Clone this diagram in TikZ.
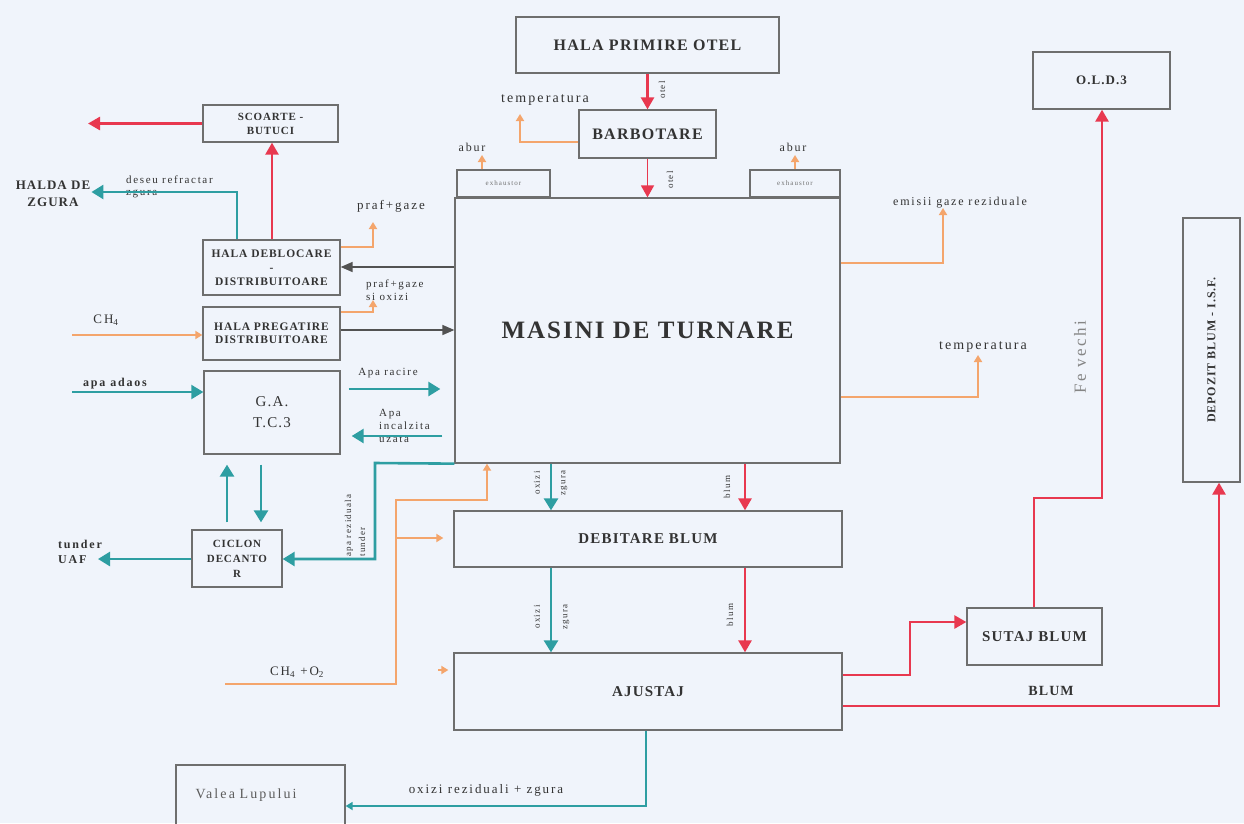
\documentclass[tikz,border=0pt]{standalone}
\usepackage{fontspec}
\setmainfont{Liberation Serif}
\newfontfamily\boxfont[LetterSpace=8]{Liberation Serif}
\newfontfamily\lblfont[LetterSpace=15]{Liberation Serif}
\usetikzlibrary{arrows.meta}
\definecolor{bg}{HTML}{F0F4FB}
\definecolor{flowred}{HTML}{E8384F}
\definecolor{flowteal}{HTML}{2E9EA2}
\definecolor{floworange}{HTML}{F4A56C}
\definecolor{boxline}{HTML}{6E6E6E}
\definecolor{ink}{HTML}{333333}
\newcommand\fsz[2]{\fontsize{#1}{#2}\selectfont}

\begin{document}
\begin{tikzpicture}[x=1pt,y=-1pt,
  box/.style={draw=boxline, line width=1.3pt, inner sep=2pt, align=center, text=ink},
  lbl/.style={font=\lblfont\fsz{12}{13}, text=ink, inner sep=1pt, align=left},
  vlbl/.style={font=\lblfont\fsz{9}{10}, text=ink, inner sep=1pt, rotate=90},
  redflow/.style={draw=flowred, line width=2.6pt, -{Triangle[length=12pt,width=13pt]}},
  tealflow/.style={draw=flowteal, line width=2.6pt, -{Triangle[length=12pt,width=14pt]}},
  orangeflow/.style={draw=floworange, line width=2pt, -{Triangle[length=7pt,width=8pt]}},
  grayflow/.style={draw=ink!85, line width=1.6pt, -{Triangle[length=12pt,width=10pt]}}]

\fill[bg] (0,0) rectangle (1244,823);
\useasboundingbox (0,0) rectangle (1244,823);

% process blocks
\node[box, minimum width=263pt, minimum height=56pt, font=\boxfont\bfseries\fsz{16}{19}] (primire) at (647.5,45) {HALA PRIMIRE OTEL};
\node[box, minimum width=137pt, minimum height=48pt, font=\boxfont\bfseries\fsz{16}{19}] (barb) at (647.5,134) {BARBOTARE};
\node[box, minimum width=93pt, minimum height=27pt, font=\lblfont\fsz{7}{8}, text=ink!70] (exL) at (503.5,183.5) {exhaustor};
\node[box, minimum width=90pt, minimum height=27pt, font=\lblfont\fsz{7}{8}, text=ink!70] (exR) at (795,183.5) {exhaustor};
\node[box, minimum width=385pt, minimum height=265pt, font=\boxfont\bfseries\fsz{25}{30}] (masini) at (647.5,330.5) {MASINI DE TURNARE};
\node[box, minimum width=135pt, minimum height=37pt, font=\boxfont\bfseries\fsz{11}{14}] (scoarte) at (270.5,123.5) {SCOARTE -\\BUTUCI};
\node[box, minimum width=137pt, minimum height=55pt, font=\boxfont\bfseries\fsz{11.5}{14}] (deblocare) at (271.5,267.5) {HALA DEBLOCARE\\-\\DISTRIBUITOARE};
\node[box, minimum width=137pt, minimum height=53pt, font=\boxfont\bfseries\fsz{11.5}{13}] (pregatire) at (271.5,333.5) {HALA PREGATIRE\\DISTRIBUITOARE};
\node[box, minimum width=136pt, minimum height=83pt, font=\boxfont\fsz{15}{21}] (ga) at (272,412.5) {G.A.\\T.C.3};
\node[box, minimum width=90pt, minimum height=57pt, font=\boxfont\bfseries\fsz{11}{15}] (ciclon) at (237,558.5) {CICLON\\DECANTO\\R};
\node[box, minimum width=388pt, minimum height=56pt, font=\boxfont\bfseries\fsz{15}{18}] (debitare) at (648,539) {DEBITARE BLUM};
\node[box, minimum width=388pt, minimum height=77pt, font=\boxfont\bfseries\fsz{15}{18}] (ajustaj) at (648,691.5) {AJUSTAJ};
\node[box, minimum width=135pt, minimum height=57pt, font=\boxfont\bfseries\fsz{15}{18}] (sutaj) at (1034.5,636.5) {SUTAJ BLUM};
\node[box, minimum width=137pt, minimum height=57pt, font=\boxfont\bfseries\fsz{13}{16}] (old3) at (1101.5,80.5) {O.L.D.3};
\node[box, rotate=90, minimum width=264pt, minimum height=57pt, font=\boxfont\bfseries\fsz{12}{14}] (depozit) at (1211.5,350) {DEPOZIT BLUM - I.S.F.};
\node[box, minimum width=169pt, minimum height=60pt, font=\lblfont\fsz{14}{16}, text=ink!80, text width=130pt, align=left] (valea) at (260.5,795) {Valea Lupului};

% free destinations and sources
\node[font=\boxfont\bfseries\fsz{13}{17}, text=ink, align=center, inner sep=1pt] (halda) at (53,194) {HALDA DE\\ZGURA};
\coordinate (scoarteout) at (88,123.5);
\coordinate (adaosin) at (72,392);
\coordinate (ch4in) at (72,335);
\coordinate (tunderout) at (98,559);
\coordinate (ch4o2in) at (225,684);
\coordinate (ch4o2up) at (396,684);
\coordinate (ch4o2mid) at (396,500);
\coordinate (tempout) at (520,114);
\coordinate (aburL) at (482,155);
\coordinate (aburR) at (795,155);
\coordinate (prafA) at (373,222);
\coordinate (prafB) at (373,300);
\coordinate (emisout) at (943,208);
\coordinate (temp2out) at (978,355);
\coordinate (rezcorner) at (375,463);
\coordinate (ajustajstub) at (438,670);

% labels
\node[vlbl] (lotel1) at (662,90) {otel};
\node[vlbl] (lotel2) at (670,180) {otel};
\node[lbl, font=\lblfont\fsz{14}{15}] (ltemp1) at (545,100) {temperatura};
\node[lbl] (labur1) at (472,147) {abur};
\node[lbl] (labur2) at (793,147) {abur};
\node[lbl, font=\lblfont\fsz{11}{12}] (ldeseu) at (125,187) [anchor=west] {deseu refractar\\zgura};
\node[lbl, font=\lblfont\fsz{13}{14}] (lpraf1) at (391,206) {praf+gaze};
\node[lbl, font=\lblfont\fsz{11}{13}] (lpraf2) at (365,290) [anchor=west] {praf+gaze\\si oxizi};
\node[lbl, font=\lblfont\fsz{13}{14}] (lch4) at (106,320) {CH\textsubscript{4}};
\node[lbl, font=\lblfont\bfseries\fsz{12}{13}] (ladaos) at (115,384) {apa adaos};
\node[lbl, font=\lblfont\fsz{11}{12}] (lracire) at (388,373) {Apa racire};
\node[lbl, font=\lblfont\fsz{11}{13}] (lincalz) at (378,426) [anchor=west] {Apa\\incalzita\\uzata};
\node[lbl, font=\lblfont\bfseries\fsz{12}{15}] (ltunder) at (57,552) [anchor=west] {tunder\\UAF};
\node[vlbl, align=left, anchor=west, font=\lblfont\fsz{9}{14}] (lrez) at (355,558) {apa reziduala\\tunder};
\node[lbl, font=\lblfont\fsz{13}{14}] (lch4o2) at (297,672) {CH\textsubscript{4} +O\textsubscript{2}};
\node[vlbl] (loxizi1) at (537,483) {oxizi};
\node[vlbl] (lzgura1) at (564,483) {zgura};
\node[vlbl] (loxizi2) at (537,617) {oxizi};
\node[vlbl] (lzgura2) at (566,617) {zgura};
\node[vlbl] (lblum1) at (727,487) {blum};
\node[vlbl] (lblum2) at (730,615) {blum};
\node[lbl, font=\lblfont\fsz{12}{13}] (lemis) at (960,203) {emisii gaze reziduale};
\node[lbl, font=\lblfont\fsz{14}{15}] (ltemp2) at (983,347) {temperatura};
\node[lbl, font=\lblfont\fsz{17}{18}, text=ink!60, rotate=90] (lfe) at (1080,357) {Fe vechi};
\node[lbl, font=\boxfont\bfseries\fsz{14}{15}] (lblum3) at (1051,691) {BLUM};
\node[lbl, font=\lblfont\fsz{13}{14}] (loxrez) at (486,790) {oxizi reziduali + zgura};

% steel / bloom flow (red)
\draw[redflow] (primire) -- (barb);
\draw[redflow, line width=1.6pt] (barb) -- (masini);
\draw[redflow] (deblocare.north -| 272,0) -- (scoarte.south -| 272,0);
\draw[redflow] (scoarte.west) -- (scoarteout);
\draw[redflow] (masini.south -| 745,0) -- (debitare.north -| 745,0);
\draw[redflow] (debitare.south -| 745,0) -- (ajustaj.north -| 745,0);
\draw[redflow] (ajustaj.east |- 0,675) -- (910,675) -- (910,622) -- (sutaj.west |- 0,622);
\draw[redflow] (ajustaj.east |- 0,706) -| (depozit.west -| 1219,0);
\draw[redflow] (sutaj.north -| 1034,0) -- (1034,498) -| (old3.south -| 1102,0);

% water / slag flow (teal)
\draw[tealflow] (deblocare.north -| 237,0) |- (halda.east |- 0,192);
\draw[tealflow, line width=2pt] (adaosin) -- (ga.west |- adaosin);
\draw[tealflow, shorten <=8pt, shorten >=14pt] (ga.east |- 0,389) -- (masini.west |- 0,389);
\draw[tealflow, shorten <=12pt, shorten >=11pt] (masini.west |- 0,436) -- (ga.east |- 0,436);
\draw[tealflow, shorten <=7pt, shorten >=10pt] (ciclon.north -| 227,0) -- (ga.south -| 227,0);
\draw[tealflow, shorten <=10pt, shorten >=7pt] (ga.south -| 261,0) -- (ciclon.north -| 261,0);
\draw[tealflow] (ciclon.west |- tunderout) -- (tunderout);
\draw[tealflow] (masini.south west) -- (rezcorner) |- (ciclon.east |- 0,559);
\draw[tealflow] (masini.south -| 551,0) -- (debitare.north -| 551,0);
\draw[tealflow] (debitare.south -| 551,0) -- (ajustaj.north -| 551,0);
\draw[tealflow, -{Triangle[length=7pt,width=8pt]}] (ajustaj.south -| 646,0) |- (valea.east |- 0,806);

% gas / heat flow (orange)
\draw[orangeflow] (barb.west |- 0,142) -| (tempout);
\draw[orangeflow] (exL.north -| aburL) -- (aburL);
\draw[orangeflow] (exR.north -| aburR) -- (aburR);
\draw[orangeflow] (deblocare.east |- 0,247) -| (prafA);
\draw[orangeflow] (pregatire.east |- 0,312) -| (prafB);
\draw[orangeflow] (ch4in) -- (pregatire.west |- ch4in);
\draw[orangeflow] (masini.east |- 0,263) -| (emisout);
\draw[orangeflow] (masini.east |- 0,397) -| (temp2out);
\draw[orangeflow] (ch4o2in) -- (ch4o2up) -- (ch4o2mid) -| (masini.south -| 487,0);
\draw[orangeflow, shorten >=10pt] (396,538) -- (debitare.west |- 0,538);
\draw[orangeflow, shorten >=5pt] (ajustajstub) -- (ajustaj.west |- ajustajstub);

% material transfer (dark)
\draw[grayflow] (masini.west |- 0,267) -- (deblocare.east |- 0,267);
\draw[grayflow] (pregatire.east |- 0,330) -- (masini.west |- 0,330);
\end{tikzpicture}
\end{document}
